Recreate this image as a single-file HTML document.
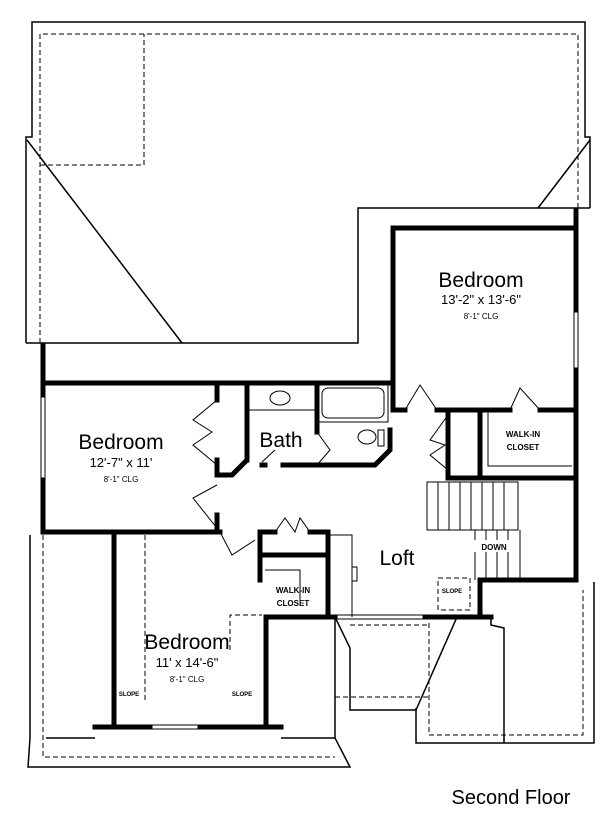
<!DOCTYPE html>
<html><head><meta charset="utf-8"><style>
html,body{margin:0;padding:0;background:#fff;}
svg{display:block;font-family:"Liberation Sans",Arial,sans-serif;}
</style></head><body>
<svg width="600" height="823" viewBox="0 0 600 823" xmlns="http://www.w3.org/2000/svg">
<g fill="none" stroke="#000" stroke-width="1.5">
<!-- upper roof -->
<polyline points="26,343 26,137 32,137 32,22 585,22 585,137 590,137 590,208"/>
<line x1="27" y1="140" x2="182" y2="343"/>
<line x1="590" y1="140" x2="538" y2="208"/>
<polyline points="26,343 358,343 358,208 590,208"/>
<!-- lower left roof -->
<polyline points="30,535 30,738 28,767 350,767 335,738 335,617"/>
<polyline points="46,738 95,738"/>
<polyline points="281,738 335,738"/>
<polyline points="335,617 350,648 350,710 416,710 457,617"/>
<polyline points="416,708 416,743 594,743 594,582"/>
<polyline points="491,617 491,625 504,628 504,743"/>
</g>
<g fill="none" stroke="#000" stroke-width="1" stroke-dasharray="5,3">
<polyline points="40,343 40,34 578,34 578,208"/>
<polyline points="40,165 144,165 144,34"/>
<polyline points="43,535 43,757 335,757"/>
<line x1="335" y1="697" x2="429" y2="697"/>
<polyline points="429,623 429,735 583,735 583,590"/>
<line x1="350" y1="625" x2="429" y2="625"/>
<polyline points="145,535 145,700"/>
<polyline points="230,650 230,615 262,615"/>
<polyline points="438,578 470,578 470,610 438,610 438,578"/>
</g>
<!-- thick walls -->
<g fill="none" stroke="#000" stroke-width="5" stroke-linecap="square">
<line x1="43" y1="345" x2="43" y2="395"/>
<line x1="43" y1="480" x2="43" y2="532"/>
<line x1="43" y1="383" x2="390" y2="383"/>
<line x1="43" y1="532" x2="220" y2="532"/>
<polyline points="393,400 393,228 576,228 576,210"/>
<line x1="576" y1="228" x2="576" y2="310"/>
<line x1="576" y1="370" x2="576" y2="580"/>
<line x1="217" y1="383" x2="217" y2="400"/>
<polyline points="217,460 217,475 232,475 245,462"/>
<line x1="217" y1="515" x2="217" y2="532"/>
<line x1="247" y1="383" x2="247" y2="460"/>
<line x1="317" y1="383" x2="317" y2="432"/>
<polyline points="283,465 375,465 390,450 390,430"/>
<line x1="265" y1="465" x2="262" y2="465"/>
<line x1="393" y1="400" x2="393" y2="410"/>
<line x1="393" y1="410" x2="405" y2="410"/>
<line x1="437" y1="410" x2="510" y2="410"/>
<line x1="540" y1="410" x2="576" y2="410"/>
<line x1="448" y1="410" x2="448" y2="478"/>
<line x1="480" y1="410" x2="480" y2="478"/>
<line x1="448" y1="478" x2="576" y2="478"/>
<line x1="260" y1="532" x2="260" y2="580"/>
<line x1="260" y1="532" x2="275" y2="532"/>
<line x1="310" y1="532" x2="328" y2="532"/>
<line x1="262" y1="555" x2="328" y2="555"/>
<line x1="328" y1="532" x2="328" y2="617"/>
<line x1="266" y1="617" x2="266" y2="727"/>
<line x1="266" y1="617" x2="335" y2="617"/>
<line x1="425" y1="617" x2="491" y2="617"/>
<line x1="480" y1="580" x2="480" y2="617"/>
<line x1="480" y1="580" x2="576" y2="580"/>
<line x1="114" y1="532" x2="114" y2="727"/>
<line x1="95" y1="727" x2="150" y2="727"/>
<line x1="200" y1="727" x2="281" y2="727"/>
</g>
<g fill="none" stroke="#000" stroke-width="1">
<!-- windows -->
<line x1="41" y1="395" x2="41" y2="480"/><line x1="45" y1="395" x2="45" y2="480"/>
<line x1="574" y1="310" x2="574" y2="370"/><line x1="578" y1="310" x2="578" y2="370"/>
<line x1="150" y1="725" x2="200" y2="725"/><line x1="150" y1="729" x2="200" y2="729"/>
<line x1="335" y1="615" x2="425" y2="615"/><line x1="335" y1="619" x2="425" y2="619"/>
<!-- doors -->
<polyline points="217,400 193,420 212,432 193,445 217,465"/>
<polyline points="217,485 193,498 220,532 232,555 255,540"/>
<polyline points="275,532 285,518 295,532 300,518 310,532"/>
<polyline points="405,410 420,385 437,410"/>
<polyline points="510,410 520,388 540,410"/>
<polyline points="448,415 430,440 445,445 430,455 448,470"/>
<polyline points="262,462 275,450"/>
<polyline points="317,432 330,450 317,465"/>
<!-- bath fixtures -->
<line x1="247" y1="410" x2="317" y2="410"/>
<ellipse cx="280" cy="398" rx="10" ry="7"/>
<rect x="322" y="388" width="62" height="30" rx="6"/>
<rect x="318" y="385" width="70" height="37"/>
<ellipse cx="367" cy="437" rx="9" ry="7"/>
<rect x="378" y="430" width="6" height="16"/>
<!-- closet shelves -->
<polyline points="488,410 488,466 572,466"/>
<polyline points="265,570 300,570 300,600"/>
<!-- stairs -->
<rect x="427" y="482" width="91" height="48"/>
<line x1="438" y1="482" x2="438" y2="530"/><line x1="449" y1="482" x2="449" y2="530"/>
<line x1="460" y1="482" x2="460" y2="530"/><line x1="471" y1="482" x2="471" y2="530"/>
<line x1="482" y1="482" x2="482" y2="530"/><line x1="493" y1="482" x2="493" y2="530"/>
<line x1="504" y1="482" x2="504" y2="530"/>
<polyline points="475,530 475,580"/><polyline points="520,530 520,580"/>
<line x1="486" y1="530" x2="486" y2="580"/><line x1="497" y1="530" x2="497" y2="580"/>
<line x1="508" y1="530" x2="508" y2="580"/>
<!-- loft rail -->
<polyline points="328,535 352,535 352,617"/>
<rect x="352" y="567" width="5" height="14"/>
</g>
<rect x="472" y="540" width="44" height="12" fill="#fff"/>
<g fill="#000" text-anchor="middle">
<text x="481" y="287" font-size="21">Bedroom</text>
<text x="481" y="304" font-size="13">13'-2" x 13'-6"</text>
<text x="481" y="319" font-size="8">8'-1" CLG</text>
<text x="121" y="449" font-size="21">Bedroom</text>
<text x="121" y="467" font-size="13">12'-7" x 11'</text>
<text x="121" y="482" font-size="8">8'-1" CLG</text>
<text x="281" y="447" font-size="21">Bath</text>
<text x="397" y="565" font-size="21">Loft</text>
<text x="187" y="649" font-size="21">Bedroom</text>
<text x="187" y="667" font-size="13">11' x 14'-6"</text>
<text x="187" y="682" font-size="8">8'-1" CLG</text>
<text x="523" y="437" font-size="8" font-weight="bold">WALK-IN</text>
<text x="523" y="450" font-size="8" font-weight="bold">CLOSET</text>
<text x="293" y="593" font-size="8" font-weight="bold">WALK-IN</text>
<text x="293" y="606" font-size="8" font-weight="bold">CLOSET</text>
<text x="494" y="550" font-size="8" font-weight="bold">DOWN</text>
<text x="452" y="593" font-size="6" font-weight="bold">SLOPE</text>
<text x="129" y="696" font-size="6" font-weight="bold">SLOPE</text>
<text x="242" y="696" font-size="6" font-weight="bold">SLOPE</text>
<text x="511" y="804" font-size="20">Second Floor</text>
</g>
</svg>
</body></html>
